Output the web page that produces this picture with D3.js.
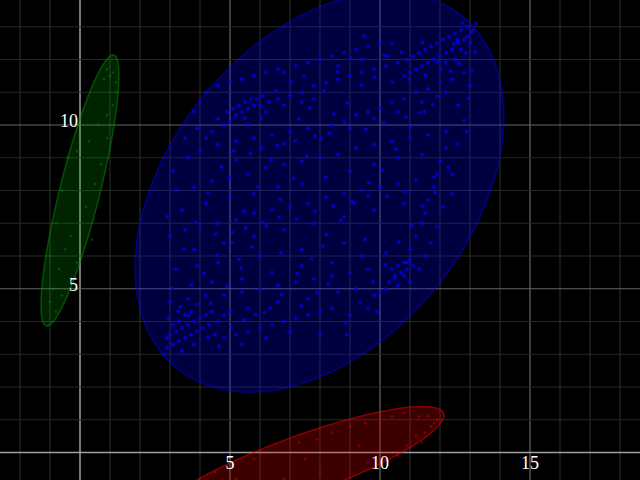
<!DOCTYPE html>
<html><head><meta charset="utf-8">
<script src="https://cdn.jsdelivr.net/npm/d3@7"></script>
<style>html,body{margin:0;padding:0;background:#000;overflow:hidden}</style>
</head><body><svg id="c" width="640" height="480"></svg>
<script>
// ---- data ----
const xTickValues = [5, 10, 15];
const yTickValues = [5, 10];
const xTickLabels = ["5", "10", "15"];
const yTickLabels = ["5", "10"];
const seriesNames = ["green", "blue", "red"];
const seriesColors = ["#00a000", "#0000ff", "#ff0000"];
const ellipseCx = [0.0, 7.98, 7.33];
const ellipseCy = [8.0, 7.95, -0.41];
const ellipseSxx = [1.69, 37.8, 23.04];
const ellipseSyy = [17.12, 37.3, 3.29];
const ellipseSxy = [4.56, 14.25, 7.39];

const greenPoints = [[0.9,11.7],[1.1,11.6],[1.2,11.3],[0.8,11.4],[1.0,11.5],[1.2,11.0],[1.1,10.6],[0.9,10.3],[0.6,10.0],[0.3,9.5],[-0.1,9.2],[0.9,9.6],[0.7,8.8],[0.5,8.2],[0.2,7.5],[0.0,7.0],[-0.3,6.6],[-0.5,6.2],[-0.7,5.6],[-0.9,5.0],[-1.0,4.6],[-0.8,4.3],[-0.6,4.8],[-0.3,5.3],[-0.1,5.8],[-0.6,8.0],[-0.8,7.0],[-1.0,6.0],[0.4,6.5],[-0.4,9.0]];

const redPoints = [[11.9,1.0],[11.8,0.9],[11.7,0.8],[11.5,0.6],[11.2,0.5],[11.6,1.1],[11.3,1.1],[10.8,1.2],[10.4,1.1],[10.0,1.0],[9.5,0.9],[9.0,0.8],[8.4,0.6],[7.9,0.4],[7.3,0.3],[6.5,0.0],[5.8,-0.2],[5.1,-0.4],[4.5,-0.6],[10.9,0.2],[10.6,-0.1],[10.2,-0.2],[9.6,-0.3],[8.0,-0.6],[6.8,-0.8],[5.2,-0.8],[11.4,0.3],[9.3,0.2],[7.5,-0.2]];

const bluePoints = [
[10.6,11.9],[10.9,12.0],[11.1,12.1],[11.3,12.2],[11.5,12.3],[11.7,12.4],[11.9,12.5],[12.1,12.6],[12.3,12.7],[12.5,12.8],[12.7,12.9],[12.9,13.0],[13.1,12.9],[12.8,12.6],[12.6,12.5],[12.4,12.3],[12.2,12.2],[12.0,12.1],[11.8,12.0],[11.6,11.9],[11.4,11.8],[11.2,11.7],[12.9,12.7],[13.0,12.5],[12.7,12.3],[11.0,11.6],[10.8,11.5],[12.5,12.0],[12.2,11.9],[13.2,13.1],
[8.4,10.0],[8.8,10.1],[9.2,10.3],[9.6,10.4],[10.0,10.5],[10.4,10.7],[10.8,10.8],[11.2,11.0],[11.6,11.1],[12.0,11.3],[12.4,11.4],[12.8,11.6],[9.0,9.9],[9.8,10.2],[10.6,10.4],[11.4,10.7],[12.2,11.0],[13.0,11.2],
[6.8,11.6],[7.2,11.8],[7.6,11.9],[8.0,12.0],[8.4,12.1],[8.8,12.2],[9.2,12.3],[9.6,12.4],[10.0,12.5],[10.4,12.5],[9.4,12.0],[8.6,11.8],
[4.6,10.2],[4.9,10.4],[5.1,10.5],[5.3,10.6],[5.5,10.7],[5.7,10.8],[5.9,10.8],[6.1,10.9],[5.4,10.4],[5.6,10.5],[5.8,10.6],[6.0,10.6],[6.3,10.7],[6.6,10.8],[7.0,10.9],[5.2,10.3],[5.0,10.1],[4.8,10.0],[5.5,10.2],[6.2,10.4],[6.8,10.6],[7.4,10.7],[7.8,10.8],[4.4,9.8],[4.2,9.6],
[4.2,11.0],[4.6,11.2],[5.0,11.3],[5.4,11.4],[5.8,11.5],[6.2,11.6],[6.6,11.7],[4.0,10.7],[3.8,10.4],
[7.8,11.2],[8.2,11.3],[8.6,11.4],[9.0,11.5],[9.4,11.6],[9.8,11.7],[10.2,11.8],[7.4,11.0],
[3.2,8.0],[3.8,8.1],[4.4,8.3],[5.0,8.4],[5.6,8.5],[6.2,8.7],[6.8,8.8],[7.4,8.9],[8.0,9.0],[8.6,9.1],[9.2,9.3],[9.8,9.4],[10.4,9.5],[11.0,9.6],[11.6,9.7],[12.2,9.8],
[3.0,6.6],[3.5,6.8],[4.0,6.9],[4.6,7.0],[5.2,7.1],[5.8,7.3],[6.4,7.4],[7.0,7.5],[7.6,7.6],[8.2,7.8],[8.8,7.9],[9.4,8.0],[10.0,8.1],[10.6,8.2],[11.2,8.3],[11.8,8.4],[12.4,8.5],
[12.0,8.9],[11.9,8.5],[11.8,8.1],[11.6,7.7],[11.5,7.3],[11.4,7.0],[11.2,6.6],[11.0,6.2],[10.9,5.8],[10.8,5.4],[10.6,5.1],[11.3,5.6],[11.5,6.0],[11.7,6.4],[12.1,7.5],[12.2,9.3],[11.0,5.2],[10.5,5.4],[10.3,5.2],
[10.4,5.6],[10.6,5.7],[10.8,5.8],[11.0,5.9],[10.5,5.3],[10.7,5.5],[10.9,5.6],[11.1,5.7],[10.2,5.0],[10.0,4.9],[9.8,4.8],
[3.0,4.6],[3.6,4.7],[4.2,4.8],[4.8,4.8],[5.4,4.9],[6.0,5.0],[6.6,5.1],[7.2,5.2],[7.8,5.3],[8.4,5.4],[9.0,5.5],[9.6,5.6],
[3.2,5.6],[3.9,5.7],[4.6,5.8],[5.3,5.9],[6.0,6.0],[6.7,6.1],[7.4,6.2],[8.1,6.3],[8.8,6.4],[9.5,6.5],
[2.9,3.2],[3.1,3.3],[3.3,3.4],[3.5,3.5],[3.7,3.6],[3.9,3.7],[4.1,3.8],[4.3,3.9],[3.0,3.6],[3.2,3.7],[3.4,3.8],[3.6,3.9],[3.8,4.0],[4.0,4.1],[4.2,4.2],[4.4,4.3],[3.1,3.9],[3.3,4.0],[3.5,4.2],[3.7,4.3],[2.9,3.5],[4.6,4.0],[4.8,4.2],[5.0,4.3],[2.8,3.0],[3.4,3.1],[3.8,3.3],[4.5,3.6],
[4.8,3.5],[5.2,3.6],[5.6,3.7],[6.0,3.8],[6.4,3.9],[6.8,4.0],[7.2,4.1],[7.6,4.2],[8.0,4.3],[8.4,4.4],[5.4,3.3],[6.2,3.5],[7.0,3.7],
[4.0,9.2],[4.6,9.4],[5.2,9.5],[5.8,9.6],[6.4,9.7],[7.0,9.8],[7.6,9.9],[3.6,9.0],[3.4,7.4],[4.2,7.6],[5.0,7.8],[5.8,7.9],[6.6,8.1],[7.4,8.2],[8.2,8.4],[9.0,8.6],[9.8,8.8],[10.6,9.0],[11.4,9.1],[3.8,6.2],[4.8,6.4],[5.8,6.6],[6.8,6.8],[7.8,7.0],[8.8,7.2],[9.8,7.4],[10.8,7.6],[4.4,5.2],[5.4,5.3],[6.4,5.5],[7.4,5.7],[8.4,5.8],[9.4,6.0],[10.2,6.1],[5.6,4.4],[6.6,4.6],[7.6,4.7],[8.6,4.9],[9.2,5.0],[8.0,3.6],[9.0,4.2],[9.6,4.4],
[3.35,4.45],[3.72,5.12],[4.13,5.48],[4.57,6.03],[5.08,6.71],[5.46,7.36],[5.93,8.12],[6.37,8.94],[6.81,9.43],[7.29,10.18],[7.66,10.52],[8.13,11.04],[8.57,11.62],[9.03,12.05],[9.48,12.71],
[4.35,4.55],[4.91,5.07],[5.37,5.62],[5.74,6.28],[6.21,6.92],[6.68,7.73],[7.12,8.37],[7.55,9.06],[8.02,9.58],[8.46,10.33],[8.91,10.67],[9.37,11.22],[9.83,11.47],[10.27,12.11],
[6.15,4.27],[6.72,4.83],[7.24,5.46],[7.73,5.92],[8.21,6.66],[8.69,7.08],[9.14,7.61],[9.63,8.24],[10.07,8.62],[10.53,9.27],[11.02,9.94],[11.48,10.41],[11.91,10.88],[12.36,11.63],
[3.08,5.02],[3.47,6.21],[3.86,7.03],[4.27,7.92],[4.72,8.72],[5.13,9.21],[5.61,10.02],[6.05,10.21],[6.52,11.04],[7.03,11.33],[7.47,11.48],
[8.87,3.96],[9.34,4.57],[9.76,5.21],[10.18,5.73],[10.62,6.42],[11.06,6.93],[11.41,7.52],[11.83,7.94],[12.27,8.71],[12.58,9.42],[12.81,10.14],[12.95,10.81],[13.06,11.66],[13.17,12.24],
[2.95,4.12],[3.28,4.31],[3.62,4.18],[3.91,4.52],[4.26,3.52],[4.63,3.24],[5.03,3.83],[5.47,4.06],[5.86,4.21],[6.34,4.41],[7.38,4.47],[7.91,4.88],[8.28,5.13],
[5.21,8.93],[5.68,9.12],[6.04,9.31],[6.57,9.38],[7.18,9.52],[7.83,9.67],[8.32,9.74],[9.53,9.87],[10.13,10.08],[10.87,10.23],[11.32,10.38],[11.76,10.62],
[4.52,6.66],[5.07,6.41],[5.52,6.85],[6.11,7.02],[6.63,7.18],[7.21,7.13],[7.83,7.37],[8.43,7.52],[9.06,7.66],[9.61,7.84],[10.24,7.82],[10.84,7.97],
[10.41,11.31],[10.96,11.38],[11.52,11.52],[12.03,11.71],[12.64,11.88],[12.87,12.21],[11.93,11.92],[12.46,12.48],[11.41,12.52],[10.72,12.22],[10.15,12.12],[12.75,13.12],[13.05,12.82],[12.58,12.61],
[3.5,9.6],[3.9,9.9],[2.9,7.2],[3.1,8.6],[12.6,10.6],[12.9,9.8],[12.4,7.9],[11.9,6.9],[9.9,4.3],[8.9,3.6]
];
const seriesPoints = [greenPoints, bluePoints, redPoints];

// ---- chart ----
const W = 640, H = 480;
const svg = d3.select("#c");
svg.append("rect").attr("width", W).attr("height", H).attr("fill", "#000");

const x = d3.scaleLinear().domain([-80 / 30, 560 / 30]).range([0, W]);
const y = d3.scaleLinear().domain([-27.5 / 32.75, 452.5 / 32.75]).range([H, 0]);

const gridX = d3.range(-2, 19);
const gridY = d3.range(0, 14);
const g = svg.append("g");
g.selectAll("line.gx").data(gridX).enter().append("line")
  .attr("x1", d => x(d)).attr("x2", d => x(d)).attr("y1", 0).attr("y2", H)
  .attr("stroke", d => d === 0 ? "#a0a0a0" : (d % 5 === 0 ? "#666" : "#282828"))
  .attr("stroke-width", d => d === 0 ? 1.5 : 1.2);
g.selectAll("line.gy").data(gridY).enter().append("line")
  .attr("y1", d => y(d)).attr("y2", d => y(d)).attr("x1", 0).attr("x2", W)
  .attr("stroke", d => d === 0 ? "#a0a0a0" : (d % 5 === 0 ? "#666" : "#282828"))
  .attr("stroke-width", d => d === 0 ? 1.5 : 1.2);

// ellipses
function ellipsePath(i) {
  const l11 = Math.sqrt(ellipseSxx[i]);
  const l21 = ellipseSxy[i] / l11;
  const l22 = Math.sqrt(ellipseSyy[i] - l21 * l21);
  const pts = d3.range(0, 361, 2).map(a => {
    const t = a * Math.PI / 180;
    return [ellipseCx[i] + l11 * Math.cos(t), ellipseCy[i] + l21 * Math.cos(t) + l22 * Math.sin(t)];
  });
  return d3.line().x(p => x(p[0])).y(p => y(p[1])).curve(d3.curveLinearClosed)(pts);
}
seriesNames.forEach((n, i) => {
  svg.append("path").attr("d", ellipsePath(i))
    .attr("fill", seriesColors[i]).attr("fill-opacity", i === 1 ? 0.25 : (i === 0 ? 0.22 : 0.24))
    .attr("stroke", seriesColors[i]).attr("stroke-opacity", 0.45).attr("stroke-width", 1.5);
});

// points
seriesNames.forEach((n, i) => {
  svg.append("g").selectAll("circle").data(seriesPoints[i]).enter().append("circle")
    .attr("cx", d => x(d[0])).attr("cy", d => y(d[1]))
    .attr("r", i === 1 ? 1.9 : 1.4)
    .attr("fill", seriesColors[i])
    .attr("fill-opacity", i === 1 ? 0.7 : 0.35);
});

// labels
svg.selectAll("text.xl").data(xTickValues).enter().append("text")
  .attr("x", d => x(d)).attr("y", y(0) + 16.5)
  .attr("text-anchor", "middle").attr("fill", "#fff")
  .attr("font-family", "'Liberation Serif', 'DejaVu Serif', serif").attr("font-size", 18)
  .text((d, i) => xTickLabels[i]);
svg.selectAll("text.yl").data(yTickValues).enter().append("text")
  .attr("x", x(0) - 2).attr("y", d => y(d) + 2)
  .attr("text-anchor", "end").attr("fill", "#fff")
  .attr("font-family", "'Liberation Serif', 'DejaVu Serif', serif").attr("font-size", 18)
  .text((d, i) => yTickLabels[i]);
</script>
</body></html>
